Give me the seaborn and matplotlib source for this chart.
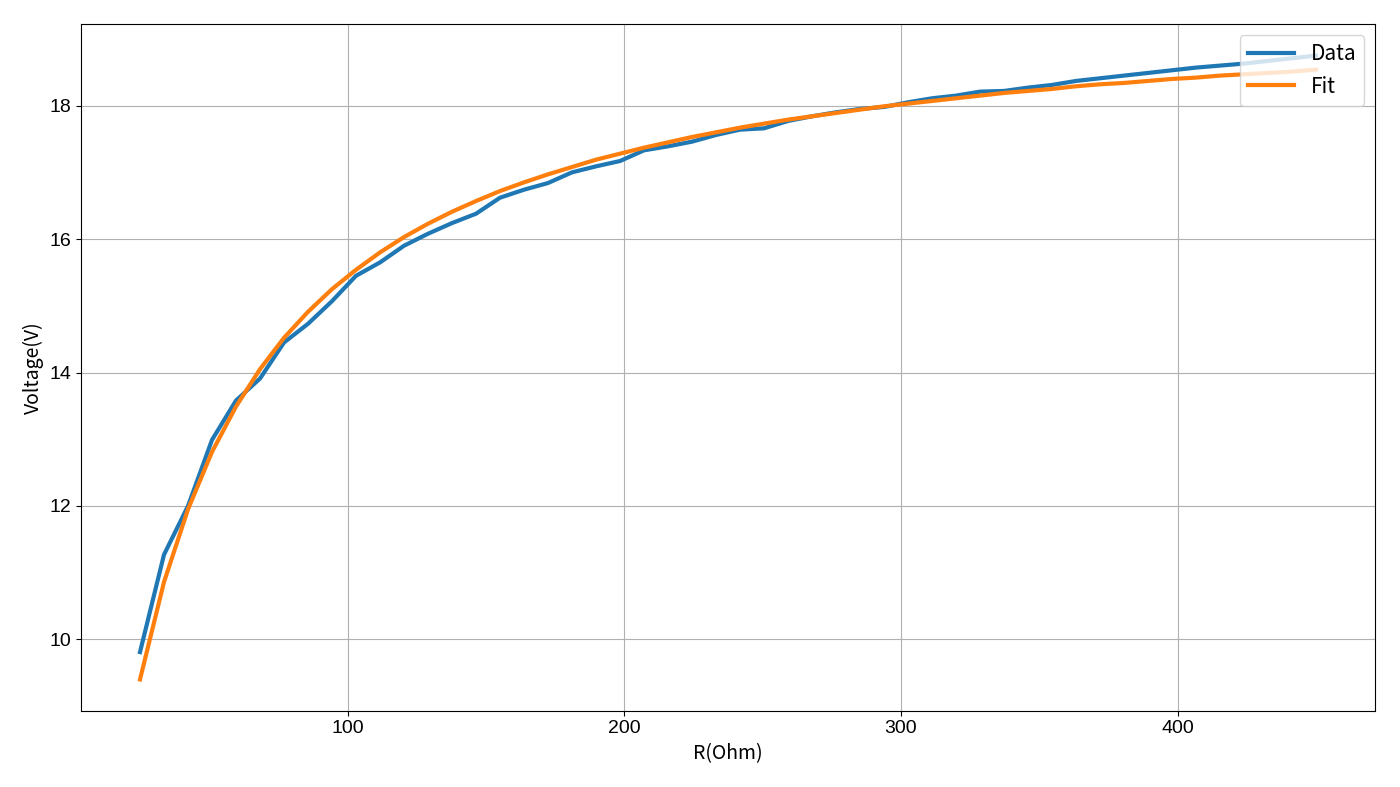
import pandas as pd
import seaborn as sns
import matplotlib.pyplot as plt

# resistance values (Ohm)
r_ohm = [25.0, 33.67, 42.35, 51.02, 59.69, 68.37, 77.04, 85.71, 94.39, 103.06,
         111.73, 120.41, 129.08, 137.76, 146.43, 155.10, 163.78, 172.45, 181.12, 189.80,
         198.47, 207.14, 215.82, 224.49, 233.16, 241.84, 250.51, 259.18, 267.86, 276.53,
         285.20, 293.88, 302.55, 311.22, 319.90, 328.57, 337.24, 345.92, 354.59, 363.27,
         371.94, 380.61, 389.29, 397.96, 406.63, 415.31, 423.98, 432.65, 441.33, 450.0]

# measured voltage
v_data = [9.81, 11.27, 12.00, 12.99, 13.58, 13.91, 14.45, 14.73, 15.07, 15.45,
          15.65, 15.90, 16.08, 16.24, 16.38, 16.62, 16.74, 16.84, 17.00, 17.09,
          17.17, 17.33, 17.39, 17.46, 17.56, 17.64, 17.66, 17.77, 17.84, 17.90,
          17.95, 17.98, 18.05, 18.11, 18.15, 18.21, 18.22, 18.27, 18.31, 18.37,
          18.41, 18.45, 18.49, 18.53, 18.57, 18.60, 18.63, 18.67, 18.71, 18.75]

# fitted curve
v_fit = [9.40, 10.86, 11.95, 12.81, 13.49, 14.05, 14.52, 14.91, 15.25, 15.54,
         15.80, 16.03, 16.23, 16.41, 16.57, 16.72, 16.85, 16.97, 17.08, 17.19,
         17.28, 17.37, 17.45, 17.53, 17.60, 17.67, 17.73, 17.79, 17.84, 17.89,
         17.94, 17.99, 18.03, 18.07, 18.11, 18.15, 18.19, 18.22, 18.25, 18.29,
         18.32, 18.34, 18.37, 18.40, 18.42, 18.45, 18.47, 18.49, 18.51, 18.54]

df = pd.DataFrame({'R': r_ohm * 2,
                   'V': v_data + v_fit,
                   'kind': ['Data'] * len(r_ohm) + ['Fit'] * len(r_ohm)})

cjk = ['Noto Sans CJK SC', 'DejaVu Sans']
plt.rcParams['font.family'] = ['Liberation Sans', 'DejaVu Sans']

fig = plt.figure(figsize=(14, 7.87), dpi=100)
ax = fig.add_axes([0.058, 0.097, 0.924, 0.872])
sns.lineplot(data=df, x='R', y='V', hue='kind', palette=['#1f77b4', '#ff7f0e'],
             linewidth=3, ax=ax)
ax.grid(True, color='#b0b0b0', linewidth=0.8)
ax.set_axisbelow(True)
ax.set_xlabel('R(Ohm)', fontsize=14, family=cjk)
ax.set_ylabel('Voltage(V)', fontsize=14, family=cjk)
ax.tick_params(labelsize=14)
ax.legend(loc='upper right', prop={'family': cjk, 'size': 15}, handlelength=2.2)
fig.savefig('out.png', dpi=100)
